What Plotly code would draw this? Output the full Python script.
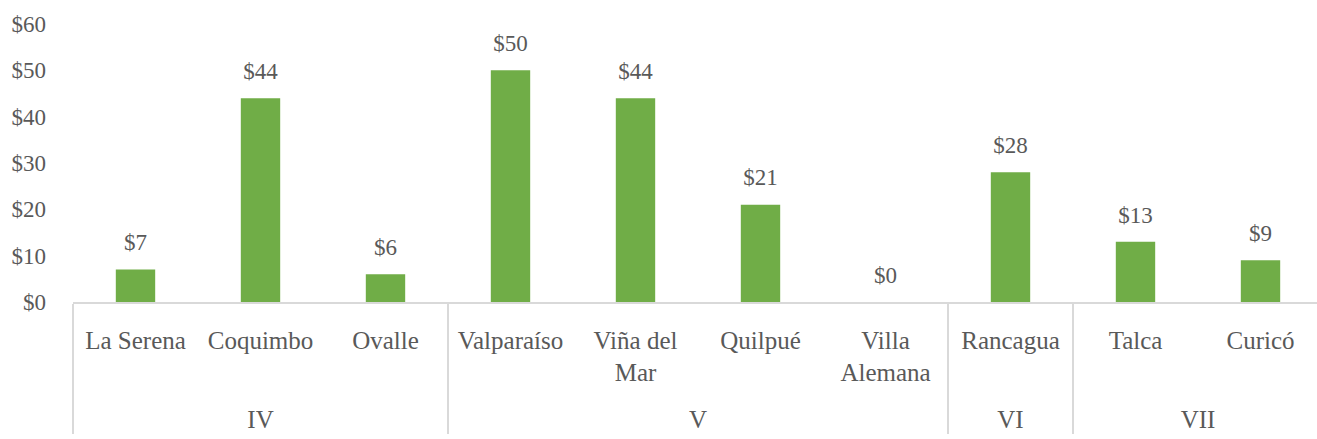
import plotly.graph_objects as go

regions = ["IV", "IV", "IV", "V", "V", "V", "V", "VI", "VII", "VII"]
cities = ["La Serena", "Coquimbo", "Ovalle", "Valparaíso", "Viña del<br>Mar",
          "Quilpué", "Villa<br>Alemana", "Rancagua", "Talca", "Curicó"]
values = [7, 44, 6, 50, 44, 21, 0, 28, 13, 9]
labels = ["$7", "$44", "$6", "$50", "$44", "$21", "$0", "$28", "$13", "$9"]
y_ticks = [0, 10, 20, 30, 40, 50, 60]
y_ticktext = ["$0", "$10", "$20", "$30", "$40", "$50", "$60"]

FONT = "Liberation Serif"
GREY = "#595959"
FS = 23
FS_X = 25

# pad every city label to three lines so the region row sits lower
city_labels = []
for c in cities:
    n = c.count("<br>") + 1
    city_labels.append(c + "<br> " * (3 - n))

x = [regions, city_labels]

fig = go.Figure()
fig.add_trace(go.Bar(
    x=x, y=values,
    marker=dict(color="#70AD47", line=dict(width=0)),
    hoverinfo="skip",
))
fig.add_trace(go.Scatter(
    x=x, y=values,
    mode="markers+text",
    text=labels,
    textposition="top center",
    marker=dict(size=20, opacity=0),
    textfont=dict(family=FONT, size=FS, color=GREY),
    cliponaxis=False,
    hoverinfo="skip",
))

fig.update_layout(
    width=1317, height=439,
    margin=dict(l=73, r=0, t=24, b=137),
    paper_bgcolor="white", plot_bgcolor="white",
    bargap=0.685,
    showlegend=False,
    font=dict(family=FONT, size=FS, color=GREY),
)
fig.update_yaxes(
    range=[0, 60], tickmode="array", tickvals=y_ticks, ticktext=y_ticktext,
    showgrid=False, zeroline=False, showline=False,
    ticklabelstandoff=26, automargin=False,
    tickfont=dict(family=FONT, size=FS, color=GREY),
)
fig.update_xaxes(
    type="multicategory",
    range=[-0.5, 9.452], autorange=False,
    showline=True, linecolor="#D9D9D9", linewidth=1.5,
    showdividers=True, dividercolor="#D9D9D9", dividerwidth=1.5,
    ticks="", showgrid=False, automargin=False,
    ticklabelstandoff=15,
    tickfont=dict(family=FONT, size=FS_X, color=GREY),
)

fig.write_html("out.html", config={"displayModeBar": False},
               post_script="document.body.style.margin='0px';")
